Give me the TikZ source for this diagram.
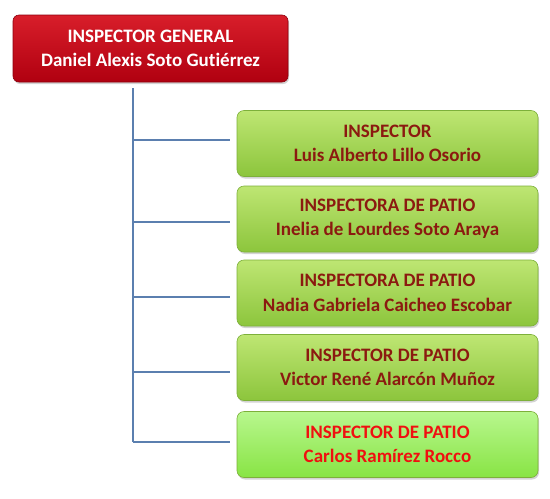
\documentclass[tikz,border=0pt]{standalone}
\usepackage{fontspec}
\setmainfont{Carlito}[Ligatures=NoCommon]
\usetikzlibrary{shadows}
\definecolor{redtop}{HTML}{D81E2A}
\definecolor{redbot}{HTML}{B00010}
\definecolor{greentop}{HTML}{BEE673}
\definecolor{greenbot}{HTML}{8CC53C}
\definecolor{ltgreentop}{HTML}{B8F78E}
\definecolor{ltgreenbot}{HTML}{88E444}
\definecolor{greenedge}{HTML}{7DB03A}
\definecolor{darktext}{HTML}{8B1A10}
\definecolor{brighttext}{HTML}{F01010}
\definecolor{linkblue}{HTML}{5B7FAF}
\tikzset{
  x=1pt, y=-1pt,
  boss/.style={draw=redbot!80!black, line width=0.6pt, rounded corners=6pt,
    top color=redtop, bottom color=redbot, minimum width=275pt, minimum height=67pt,
    text=white, font=\bfseries\fontsize{19}{24}\selectfont, align=center,
    drop shadow={shadow xshift=1pt, shadow yshift=-2pt, opacity=0.35}},
  staff/.style={draw=greenedge, line width=0.6pt, rounded corners=7pt,
    top color=greentop, bottom color=greenbot, minimum width=301pt, minimum height=66pt,
    text=darktext, font=\bfseries\fontsize{19}{24.5}\selectfont, align=center,
    drop shadow={shadow xshift=1pt, shadow yshift=-2pt, opacity=0.35}},
  newstaff/.style={staff, top color=ltgreentop, bottom color=ltgreenbot, text=brighttext},
  link/.style={draw=linkblue, line width=1.2pt}
}
\begin{document}
\begin{tikzpicture}
\useasboundingbox (0,0) rectangle (550,499);
\node[boss] (gen) at (150.5,48.5) {INSPECTOR GENERAL\\Daniel Alexis Soto Gutiérrez};
\node[staff] (s1) at (387.5,143.5) {INSPECTOR\\Luis Alberto Lillo Osorio};
\node[staff] (s2) at (387.5,219) {INSPECTORA DE PATIO\\Inelia de Lourdes Soto Araya};
\node[staff] (s3) at (387.5,293) {INSPECTORA DE PATIO\\Nadia Gabriela Caicheo Escobar};
\node[staff] (s4) at (387.5,367.5) {INSPECTOR DE PATIO\\Victor René Alarcón Muñoz};
\node[newstaff] (s5) at (387.5,444.5) {INSPECTOR DE PATIO\\Carlos Ramírez Rocco};
\coordinate (top) at (133,88);
\coordinate (c1) at (133,140);
\coordinate (c2) at (133,222);
\coordinate (c3) at (133,297);
\coordinate (c4) at (133,372);
\coordinate (c5) at (133,442);
\draw[link] (top) -- (c5);
\draw[link] (c1) -- ([xshift=-7pt]c1 -| s1.west);
\draw[link] (c2) -- ([xshift=-7pt]c2 -| s2.west);
\draw[link] (c3) -- ([xshift=-7pt]c3 -| s3.west);
\draw[link] (c4) -- ([xshift=-7pt]c4 -| s4.west);
\draw[link] (c5) -- ([xshift=-7pt]c5 -| s5.west);
\end{tikzpicture}
\end{document}
